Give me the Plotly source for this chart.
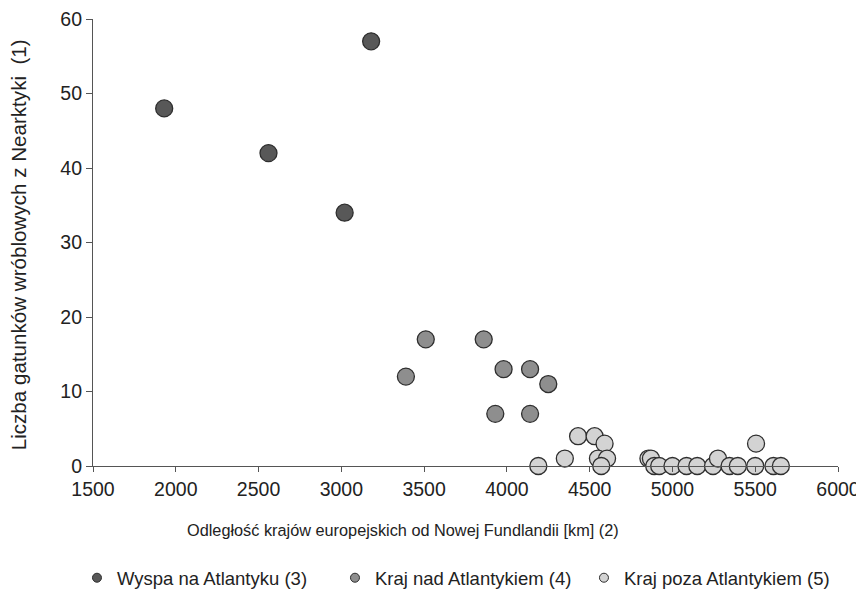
import plotly.graph_objects as go

# Wyspa na Atlantyku (3)
island_x = [1930, 2560, 3020, 3180]
island_y = [48, 42, 34, 57]

# Kraj nad Atlantykiem (4)
atlantic_x = [3390, 3510, 3860, 3930, 3980, 4140, 4140, 4250]
atlantic_y = [12, 17, 17, 7, 13, 13, 7, 11]

# Kraj poza Atlantykiem (5)
inland_x = [4190, 4350, 4430, 4530, 4590, 4550, 4605, 4570,
            4855, 4870, 4890, 4920, 5000, 5085, 5150, 5245, 5275,
            5345, 5395, 5500, 5505, 5610, 5655]
inland_y = [0, 1, 4, 4, 3, 1, 1, 0,
            1, 1, 0, 0, 0, 0, 0, 0, 1,
            0, 0, 0, 3, 0, 0]

x_ticks = [1500, 2000, 2500, 3000, 3500, 4000, 4500, 5000, 5500, 6000]
y_ticks = [0, 10, 20, 30, 40, 50, 60]

names = ["Wyspa na Atlantyku (3)", "Kraj nad Atlantykiem (4)", "Kraj poza Atlantykiem (5)"]
colors = ["#585858", "#8e8e8e", "#d3d3d3"]
legend_ids = ["legend", "legend2", "legend3"]
legend_x = [-0.0215, 0.3248, 0.659]
outline = "#2e2e2e"
FONT = "Liberation Sans, Arial, sans-serif"
TXT = "#222222"

fig = go.Figure()
for xs, ys, c in zip([island_x, atlantic_x, inland_x], [island_y, atlantic_y, inland_y], colors):
    fig.add_trace(go.Scatter(
        x=xs, y=ys, mode="markers", showlegend=False, cliponaxis=False,
        marker=dict(size=17, color=c, line=dict(color=outline, width=1.3)),
    ))
# legend entries (small markers)
for n, c, lid in zip(names, colors, legend_ids):
    fig.add_trace(go.Scatter(
        x=[None], y=[None], mode="markers", name=n, legend=lid,
        marker=dict(size=9, color=c, line=dict(color=outline, width=1)),
    ))

legend_common = dict(orientation="h", y=-0.251, yanchor="middle", xanchor="left",
                     font=dict(size=18.5, color=TXT, family=FONT),
                     itemsizing="trace", bgcolor="rgba(0,0,0,0)")
layout_legends = {lid: dict(x=lx, **legend_common) for lid, lx in zip(legend_ids, legend_x)}

# page body has an 8px margin, so the figure is 8px smaller than the window
fig.update_layout(
    width=856, height=581,
    margin=dict(l=85, r=26, t=11, b=123, autoexpand=False),
    paper_bgcolor="white", plot_bgcolor="white",
    font=dict(family=FONT, size=18, color=TXT),
    showlegend=True,
    annotations=[
        dict(text="Odległość krajów europejskich od Nowej Fundlandii [km] (2)",
             x=0.416, y=-0.143, xref="paper", yref="paper",
             xanchor="center", yanchor="middle", showarrow=False,
             font=dict(size=16.3, color=TXT, family=FONT)),
        dict(text="Liczba gatunków wróblowych z Nearktyki \u00a0(1)",
             x=-0.1007, y=0.496, xref="paper", yref="paper", textangle=-90,
             xanchor="center", yanchor="middle", showarrow=False,
             font=dict(size=20.6, color=TXT, family=FONT)),
    ],
    **layout_legends,
)
fig.update_xaxes(
    range=[1500, 6000], tickvals=x_ticks, ticktext=[str(v) for v in x_ticks],
    showgrid=False, zeroline=False, showline=True, linecolor="#555555", linewidth=1.2,
    ticks="outside", ticklen=5, tickcolor="#555555", tickwidth=1.2,
    tickfont=dict(size=19.5, color=TXT, family=FONT), automargin=False,
    ticklabeloverflow="allow",
)
fig.update_yaxes(
    range=[0, 60], tickvals=y_ticks, ticktext=[str(v) for v in y_ticks],
    showgrid=False, zeroline=False, showline=True, linecolor="#555555", linewidth=1.2,
    ticks="outside", ticklen=6, tickcolor="#555555", tickwidth=1.2,
    tickfont=dict(size=19.5, color=TXT, family=FONT), automargin=False,
    ticklabeloverflow="allow",
)

fig.write_html("out.html")
